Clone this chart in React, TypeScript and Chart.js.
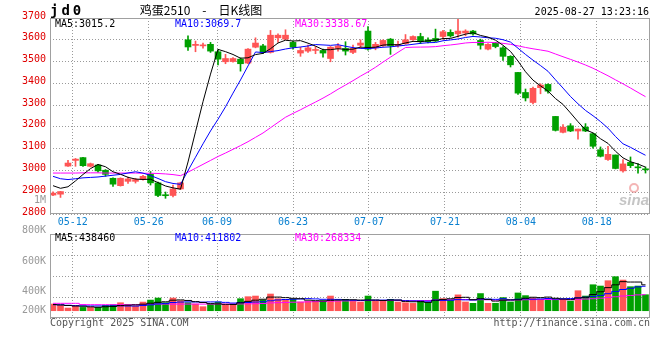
import React, { useEffect, useRef } from 'react';
import { Chart, registerables } from 'chart.js';

Chart.register(...registerables);

// ---------- data ----------
const opens = [2887, 2891, 3020, 3046, 3059, 3019, 3025, 3001, 2964, 2930,
  2950, 2950, 2958, 2982, 2943, 2887, 2885, 2915, 3600, 3574,
  3572, 3579, 3545, 3499, 3500, 3511, 3493, 3566, 3572, 3542,
  3609, 3603, 3588, 3539, 3548, 3551, 3551, 3514, 3560, 3560,
  3542, 3575, 3640, 3563, 3572, 3603, 3573, 3582, 3600, 3615,
  3600, 3606, 3615, 3634, 3627, 3631, 3640, 3597, 3557, 3585,
  3563, 3524, 3450, 3358, 3312, 3380, 3395, 3248, 3175, 3205,
  3181, 3199, 3169, 3095, 3050, 3071, 2998, 3037, 3014, 3004];
const highs = [2902, 2904, 3047, 3055, 3060, 3034, 3028, 3004, 2966, 2966,
  2970, 2964, 2978, 2995, 2946, 2901, 2933, 2946, 3618, 3594,
  3585, 3588, 3554, 3533, 3518, 3517, 3560, 3609, 3579, 3643,
  3627, 3646, 3594, 3566, 3576, 3569, 3557, 3569, 3582, 3591,
  3576, 3600, 3661, 3588, 3600, 3606, 3594, 3624, 3618, 3630,
  3609, 3649, 3643, 3646, 3695, 3646, 3643, 3603, 3582, 3588,
  3569, 3527, 3450, 3374, 3383, 3398, 3398, 3248, 3211, 3215,
  3190, 3215, 3172, 3108, 3111, 3071, 3050, 3062, 3031, 3016];
const lows = [2884, 2876, 3018, 3019, 3018, 3016, 2992, 2973, 2927, 2928,
  2940, 2942, 2955, 2933, 2880, 2872, 2878, 2912, 3551, 3545,
  3561, 3542, 3484, 3490, 3497, 3456, 3490, 3563, 3536, 3539,
  3588, 3600, 3557, 3524, 3542, 3536, 3520, 3499, 3548, 3530,
  3536, 3560, 3552, 3554, 3569, 3533, 3566, 3579, 3597, 3582,
  3585, 3592, 3603, 3612, 3612, 3618, 3621, 3557, 3554, 3563,
  3505, 3475, 3349, 3319, 3306, 3352, 3355, 3181, 3172, 3178,
  3144, 3178, 3102, 3062, 3046, 3007, 2992, 3013, 2988, 2988];
const closes = [2896, 2903, 3034, 3052, 3022, 3031, 2998, 2982, 2937, 2964,
  2961, 2958, 2973, 2943, 2885, 2884, 2915, 2943, 3567, 3579,
  3575, 3548, 3511, 3514, 3514, 3490, 3557, 3585, 3542, 3621,
  3621, 3621, 3566, 3551, 3563, 3554, 3539, 3566, 3572, 3548,
  3560, 3585, 3557, 3579, 3597, 3572, 3579, 3600, 3615, 3591,
  3591, 3594, 3637, 3618, 3640, 3640, 3627, 3575, 3579, 3569,
  3524, 3485, 3355, 3333, 3377, 3392, 3364, 3184, 3199, 3181,
  3190, 3181, 3111, 3065, 3074, 3009, 3030, 3022, 3012, 3003];
const volumes = [113000, 90000, 45000, 79000, 56000, 56000, 56000, 90000, 101000, 135000,
  90000, 79000, 146000, 180000, 214000, 135000, 214000, 169000, 135000, 113000,
  68000, 113000, 146000, 101000, 101000, 203000, 237000, 248000, 180000, 282000,
  203000, 192000, 192000, 146000, 158000, 158000, 169000, 248000, 158000, 192000,
  158000, 146000, 248000, 158000, 158000, 192000, 146000, 135000, 124000, 169000,
  125000, 330000, 205000, 182000, 268000, 148000, 125000, 290000, 125000, 126000,
  222000, 148000, 300000, 255000, 212000, 192000, 192000, 202000, 182000, 160000,
  338000, 248000, 439000, 417000, 507000, 575000, 518000, 406000, 417000, 270000];

// moving-average values before enough history exists
const ma5Lead = [2930, 2918, 2925, 2952];
const ma10Lead = [2973, 2962, 2958, 2962, 2966, 2968, 2970, 2974, 2978];
const ma30Lead = [2988, 2988, 2988, 2988, 2989, 2989, 2989, 2988, 2988, 2988,
  2988, 2988, 2987, 2987, 2986, 2984, 2981, 2976, 2992, 3010,
  3028, 3046, 3064, 3080, 3097, 3114, 3132, 3152, 3172];
const volMa5Lead = [105000, 98000, 88000, 80000];
const volMa10Lead = [101000, 100000, 92000, 86000, 82000, 80000, 80000, 81000, 82000];
const volMa30Lead = [125000, 125000, 125000, 125000, 104000, 102000, 102000, 102000, 102000, 102000,
  102000, 102000, 102000, 112000, 112000, 112000, 112000, 112000, 112000, 112000,
  112000, 112000, 113000, 113000, 114000, 115000, 116000, 118000, 122000];

const priceTicks = [2800, 2900, 3000, 3100, 3200, 3300, 3400, 3500, 3600, 3700];
const dateTickLabels = ['05-12', '05-26', '06-09', '06-23', '07-07', '07-21', '08-04', '08-18'];
const dateTickIndex = [3, 13, 22, 32, 42, 52, 62, 72];
const volumeAxisLabels = ['800K', '600K', '400K', '200K'];
const priceLegend = ['MA5:3015.2', 'MA10:3069.7', 'MA30:3338.67'];
const volumeLegend = ['MA5:438460', 'MA10:411802', 'MA30:268334'];
const titleText = '鸡蛋2510\u3000-\u3000日K线图';
const symbolText = 'jd0';
const timeText = '2025-08-27 13:23:16';

// ---------- styling ----------
const MONO = '"DejaVu Sans Mono", monospace';
const UP = '#ff5555';
const DOWN = '#00a000';
const GRID = '#9a9a9a';
const BORDER = '#a0a0a0';
const LINE_COLORS = ['#000000', '#0000ff', '#ff00ff'];
const X_MIN = -0.4;
const X_MAX = 79.6;

function movingAverage(values: number[], n: number, lead: number[]): number[] {
  return values.map((_, i) => {
    if (i < n - 1) return lead[i];
    let s = 0;
    for (let k = i - n + 1; k <= i; k++) s += values[k];
    return s / n;
  });
}

const idx = closes.map((_, i) => i);
const candleColors = idx.map((i) => (closes[i] >= opens[i] ? UP : DOWN));

function xScale(showLabels: boolean): any {
  return {
    type: 'linear',
    min: X_MIN,
    max: X_MAX,
    offset: false,
    afterBuildTicks: (s: any) => {
      s.ticks = dateTickIndex.map((d) => ({ value: (d * 80) / 79 - 0.4 }));
    },
    ticks: {
      display: showLabels,
      autoSkip: false,
      maxRotation: 0,
      color: '#0a80d0',
      font: { family: MONO, size: 10 },
      padding: 2,
      callback: (_v: any, i: number) => dateTickLabels[i],
    },
    grid: { color: GRID, drawTicks: false, offset: false, lineWidth: 1 },
    border: { display: false, dash: [1, 2] },
    afterFit: (s: any) => {
      s.height = showLabels ? 14 : 0;
    },
  };
}

function lineDs(label: string, values: number[], color: string, stepped: any) {
  return {
    type: 'line',
    label,
    data: idx.map((i) => ({ x: i, y: values[i] })),
    borderColor: color,
    borderWidth: 1,
    pointRadius: 0,
    tension: 0,
    stepped,
    order: 0,
  };
}

const mainDecor = {
  id: 'mainDecor',
  afterDraw(chart: any) {
    const { ctx, chartArea: a } = chart;
    ctx.save();
    ctx.setLineDash([]);
    ctx.strokeStyle = BORDER;
    ctx.lineWidth = 1;
    ctx.strokeRect(a.left + 0.5, a.top + 0.5, a.right - a.left - 1, a.bottom - a.top - 1);

    // symbol
    ctx.fillStyle = '#000';
    ctx.font = `bold 14px ${MONO}`;
    ctx.textAlign = 'left';
    ctx.textBaseline = 'alphabetic';
    try { (ctx as any).letterSpacing = '3px'; } catch (e) { /* ignore */ }
    ctx.fillText(symbolText, 50, 15);
    try { (ctx as any).letterSpacing = '0px'; } catch (e) { /* ignore */ }

    // title
    ctx.font = '12px "Noto Sans CJK SC", sans-serif';
    ctx.textAlign = 'center';
    ctx.textBaseline = 'middle';
    ctx.fillText(titleText, 201, 10);

    // time
    ctx.font = `10px ${MONO}`;
    ctx.textAlign = 'right';
    ctx.fillText(timeText, 649, 12.5);

    // MA legends
    ctx.textAlign = 'left';
    const lx = [a.left + 5, a.left + 125, a.left + 245];
    priceLegend.forEach((t, k) => {
      ctx.fillStyle = LINE_COLORS[k];
      ctx.fillText(t, lx[k], a.top + 6);
    });

    // stray axis label
    ctx.fillStyle = '#999';
    ctx.textAlign = 'right';
    ctx.fillText('1M', a.left - 4, a.bottom - 14);

    // watermark
    ctx.fillStyle = 'rgba(150,150,150,0.55)';
    ctx.font = 'italic bold 15px "Liberation Sans", sans-serif';
    ctx.textAlign = 'right';
    ctx.textBaseline = 'alphabetic';
    ctx.fillText('sina', a.right - 1, a.bottom - 9);
    ctx.strokeStyle = 'rgba(235,120,120,0.55)';
    ctx.lineWidth = 2;
    ctx.beginPath();
    ctx.arc(a.right - 16, a.bottom - 26, 4, 0, Math.PI * 2);
    ctx.stroke();
    ctx.restore();
  },
};

const volDecor = {
  id: 'volDecor',
  afterDraw(chart: any) {
    const { ctx, chartArea: a } = chart;
    ctx.save();
    ctx.setLineDash([]);
    ctx.strokeStyle = BORDER;
    ctx.lineWidth = 1;
    ctx.strokeRect(a.left + 0.5, a.top + 0.5, a.right - a.left - 1, a.bottom - a.top - 1);

    ctx.font = `10px ${MONO}`;
    ctx.textBaseline = 'middle';
    ctx.textAlign = 'left';
    const lx = [a.left + 5, a.left + 125, a.left + 245];
    volumeLegend.forEach((t, k) => {
      ctx.fillStyle = LINE_COLORS[k];
      ctx.fillText(t, lx[k], a.top + 4);
    });

    ctx.fillStyle = '#999';
    ctx.textAlign = 'right';
    const ly = [a.top - 4, a.top + 27, a.top + 57, a.top + 76];
    volumeAxisLabels.forEach((t, k) => ctx.fillText(t, a.left - 4, ly[k]));

    ctx.fillStyle = '#555';
    ctx.textAlign = 'left';
    ctx.fillText('Copyright 2025 SINA.COM', a.left, a.bottom + 5);
    ctx.textAlign = 'right';
    ctx.fillText('http://finance.sina.com.cn', a.right, a.bottom + 5);
    ctx.restore();
  },
};

export default function App() {
  const mainRef = useRef<HTMLCanvasElement>(null);
  const volRef = useRef<HTMLCanvasElement>(null);

  useEffect(() => {
    const ma5 = movingAverage(closes, 5, ma5Lead);
    const ma10 = movingAverage(closes, 10, ma10Lead);
    const ma30 = movingAverage(closes, 30, ma30Lead);
    const vma5 = movingAverage(volumes, 5, volMa5Lead);
    const vma10 = movingAverage(volumes, 10, volMa10Lead);
    const vma30 = movingAverage(volumes, 30, volMa30Lead);

    const main = new Chart(mainRef.current as HTMLCanvasElement, {
      type: 'bar',
      data: {
        datasets: [
          lineDs('MA5', ma5, LINE_COLORS[0], false),
          lineDs('MA10', ma10, LINE_COLORS[1], false),
          lineDs('MA30', ma30, LINE_COLORS[2], false),
          {
            type: 'bar',
            label: 'body',
            data: idx.map((i) => ({ x: i, y: [opens[i], closes[i]] })),
            backgroundColor: candleColors,
            borderWidth: 0,
            barThickness: 6,
            minBarLength: 1,
            grouped: false,
            order: 1,
          },
          {
            type: 'bar',
            label: 'wick',
            data: idx.map((i) => ({ x: i, y: [lows[i], highs[i]] })),
            backgroundColor: candleColors,
            borderWidth: 0,
            barThickness: 1,
            grouped: false,
            order: 2,
          },
        ] as any,
      },
      options: {
        responsive: false,
        animation: false,
        events: [],
        layout: { padding: { top: 18, right: 10, left: 0, bottom: 0 } },
        plugins: { legend: { display: false }, tooltip: { enabled: false } },
        scales: {
          x: xScale(true),
          y: {
            type: 'linear',
            min: 2800,
            max: 3700,
            afterBuildTicks: (s: any) => {
              s.ticks = priceTicks.map((v) => ({ value: v }));
            },
            ticks: {
              color: '#e00000',
              font: { family: MONO, size: 10 },
              padding: 4,
              labelOffset: -2,
              callback: (v: any) => String(v),
            },
            grid: { color: GRID, drawTicks: false },
            border: { display: false, dash: [1, 2] },
            afterFit: (s: any) => {
              s.width = 50;
            },
          },
        },
      } as any,
      plugins: [mainDecor],
    });

    const vol = new Chart(volRef.current as HTMLCanvasElement, {
      type: 'bar',
      data: {
        datasets: [
          lineDs('VMA5', vma5, LINE_COLORS[0], 'middle'),
          lineDs('VMA10', vma10, LINE_COLORS[1], 'middle'),
          lineDs('VMA30', vma30, LINE_COLORS[2], 'middle'),
          {
            type: 'bar',
            label: 'volume',
            data: idx.map((i) => ({ x: i, y: volumes[i] })),
            backgroundColor: candleColors,
            borderWidth: 0,
            barThickness: 6,
            grouped: false,
            order: 1,
          },
        ] as any,
      },
      options: {
        responsive: false,
        animation: false,
        events: [],
        layout: { padding: { top: 14, right: 10, left: 0, bottom: 42 } },
        plugins: { legend: { display: false }, tooltip: { enabled: false } },
        scales: {
          x: xScale(false),
          y: {
            type: 'linear',
            min: -123000,
            max: 1296000,
            afterBuildTicks: (s: any) => {
              const step = (s.max - s.min) / 4;
              s.ticks = [0, 1, 2, 3, 4].map((k) => ({ value: s.min + k * step }));
            },
            ticks: { display: false },
            grid: { color: GRID, drawTicks: false },
            border: { display: false, dash: [1, 2] },
            afterFit: (s: any) => {
              s.width = 50;
            },
          },
        },
      } as any,
      plugins: [volDecor],
    });

    return () => {
      main.destroy();
      vol.destroy();
    };
  }, []);

  return (
    <div style={{ position: 'absolute', left: 0, top: 0, width: 660, height: 360, background: '#fff' }}>
      <canvas
        ref={mainRef}
        width={660}
        height={228}
        style={{ position: 'absolute', left: 0, top: 0, width: 660, height: 228 }}
      />
      <canvas
        ref={volRef}
        width={660}
        height={140}
        style={{ position: 'absolute', left: 0, top: 220, width: 660, height: 140 }}
      />
    </div>
  );
}
